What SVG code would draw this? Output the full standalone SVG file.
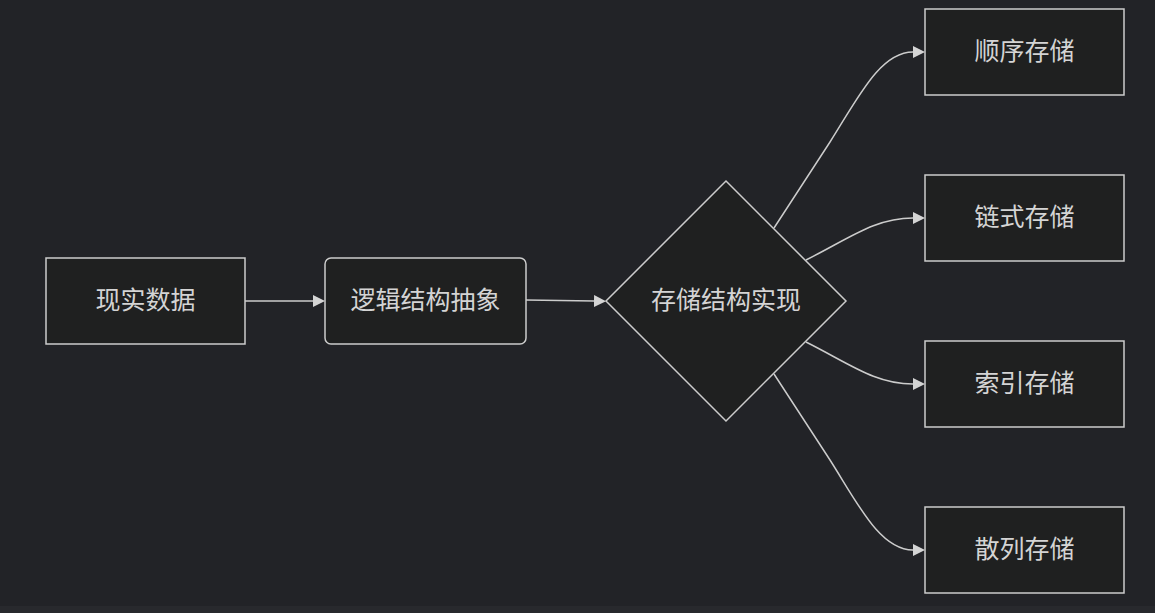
<svg xmlns="http://www.w3.org/2000/svg" width="1155" height="613" viewBox="0 0 1155 613">
<style>
.node rect,.node polygon{fill:#1f2020;stroke:#cccccc;stroke-width:1.5}
.node text{fill:#d4d4d4;font-family:"Noto Sans CJK SC","Noto Sans",sans-serif;font-size:25px;text-anchor:middle;dominant-baseline:central}
.edges path{fill:none;stroke:#cccccc;stroke-width:1.5}
</style>
<defs>
<marker id="arrow" viewBox="0 0 12 12" refX="0" refY="6" markerWidth="12" markerHeight="12" markerUnits="userSpaceOnUse" orient="auto">
<path d="M0,0 L12,6 L0,12 z" fill="#d4d4d4"/>
</marker>
</defs>
<rect width="1155" height="613" fill="#222327"/>
<rect y="606" width="1155" height="7" fill="#28292d"/>
<g class="edges">
<path d="M245,301 L313,301" marker-end="url(#arrow)"/>
<path d="M526,300 L594,301" marker-end="url(#arrow)"/>
<path d="M774,228 L830,142 C858,98 880,52 913,52" marker-end="url(#arrow)"/>
<path d="M806,260 C850,238 875,218 913,218" marker-end="url(#arrow)"/>
<path d="M806,342 C850,364 875,384 913,384" marker-end="url(#arrow)"/>
<path d="M774,374 L830,460 C858,504 880,550 913,550" marker-end="url(#arrow)"/>
</g>
<g id="n1" class="node"><rect x="46" y="258" width="199" height="86"/><text x="145.5" y="298">现实数据</text></g>
<g id="n2" class="node"><rect x="325" y="258" width="201" height="86" rx="6" ry="6"/><text x="425.5" y="298">逻辑结构抽象</text></g>
<g id="n3" class="node"><polygon points="726,181 846,301 726,421 606,301"/><text x="726" y="298">存储结构实现</text></g>
<g id="n4" class="node"><rect x="925" y="9" width="199" height="86"/><text x="1024.5" y="49">顺序存储</text></g>
<g id="n5" class="node"><rect x="925" y="175" width="199" height="86"/><text x="1024.5" y="215">链式存储</text></g>
<g id="n6" class="node"><rect x="925" y="341" width="199" height="86"/><text x="1024.5" y="381">索引存储</text></g>
<g id="n7" class="node"><rect x="925" y="507" width="199" height="86"/><text x="1024.5" y="547">散列存储</text></g>
</svg>
